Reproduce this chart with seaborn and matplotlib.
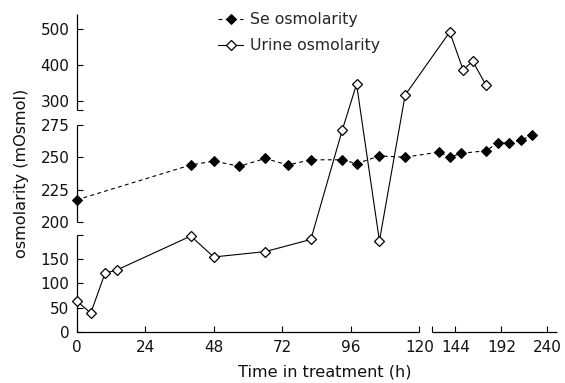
import numpy as np
import matplotlib
matplotlib.use("Agg")
import matplotlib.pyplot as plt
import seaborn as sns
import pandas as pd
from matplotlib.ticker import FixedLocator, NullFormatter

# ---- data ----
se_time = [0, 40, 48, 57, 66, 74, 82, 93, 98, 106, 115, 127, 138, 150, 176, 188, 200, 212, 224]
se_osm = [217, 244, 247, 243, 249, 244, 248, 248, 245, 251, 250, 254, 250, 253, 255, 261, 261, 263, 267]
urine_time = [0, 5, 10, 14, 40, 48, 66, 82, 93, 98, 106, 115, 138, 152, 162, 176]
urine_osm = [64, 39, 121, 127, 197, 154, 165, 190, 271, 346, 187, 316, 491, 386, 410, 343]
x_ticks = [0, 24, 48, 72, 96, 120, 144, 192, 240]
y_ticks = [0, 50, 100, 150, 200, 225, 250, 275, 300, 400, 500]

sns.set_theme(style="ticks")
plt.rcParams['font.family'] = ['DejaVu Sans']
plt.rcParams['font.size'] = 11

# ---- broken (piecewise) scales ----
XA = 2.858
XB = 0.958
XG = 356.0


def xf(x):
    x = np.asarray(x, float)
    return np.where(x <= 120, x * XA, XG + (x - 120) * XB)


def xi(d):
    d = np.asarray(d, float)
    return np.where(d <= 120 * XA, d / XA,
                    np.where(d < XG, 120.0, 120 + (d - XG) / XB))


YA, YB, YC = 0.4867, 1.2933, 0.36
Y1, Y2 = 110.0, 222.0


def yf(v):
    v = np.asarray(v, float)
    return np.where(v < 200, v * YA,
                    np.where(v <= 275, Y1 + (v - 200) * YB, Y2 + (v - 275) * YC))


def yi(d):
    d = np.asarray(d, float)
    top_mid = Y1 + 75 * YB
    return np.where(d < 200 * YA, d / YA,
           np.where(d < Y1, 200.0,
           np.where(d <= top_mid, 200 + (d - Y1) / YB,
           np.where(d < Y2, 275.0, 275 + (d - Y2) / YC))))


W, H = 565, 383
fig = plt.figure(figsize=(W / 100, H / 100), dpi=100)
x0, x1, ybot, ytop = 76.5, 557.0, 332.0, 14.0
ax = fig.add_axes([x0 / W, 1 - ybot / H, (x1 - x0) / W, (ybot - ytop) / H])
ax.set_facecolor("white")
ax.set_xscale("function", functions=(xf, xi))
ax.set_yscale("function", functions=(yf, yi))

se_df = pd.DataFrame({"t": se_time, "v": se_osm})
ur_df = pd.DataFrame({"t": urine_time, "v": urine_osm})

sns.lineplot(data=se_df, x="t", y="v", ax=ax, estimator=None, sort=False,
             color="black", lw=0.8, linestyle=(0, (3.5, 3)),
             marker="D", markersize=5.5, markerfacecolor="black",
             markeredgecolor="black", label="Se osmolarity", clip_on=False, zorder=3)
sns.lineplot(data=ur_df, x="t", y="v", ax=ax, estimator=None, sort=False,
             color="black", lw=0.8, linestyle="-",
             marker="D", markersize=5.5, markerfacecolor="white",
             markeredgecolor="black", markeredgewidth=0.9,
             label="Urine osmolarity", clip_on=False, zorder=4)

ax.set_xlim(0, 250)
ax.set_ylim(0, 541)

# spines drawn as broken segments
for s in ax.spines.values():
    s.set_visible(False)
for a, b in [(0, 199.999), (200, 275), (275.001, 541)]:
    ax.plot([0, 0], [a, b], transform=ax.get_yaxis_transform(), color="black",
            lw=0.9, clip_on=False, solid_capstyle="butt")
for a, b in [(0, 120), (120.001, 250)]:
    ax.plot([a, b], [0, 0], transform=ax.get_xaxis_transform(), color="black",
            lw=0.9, clip_on=False, solid_capstyle="butt")

ax.xaxis.set_major_locator(FixedLocator(x_ticks))
ax.set_xticklabels([str(t) for t in x_ticks])
ax.yaxis.set_major_locator(FixedLocator(y_ticks))
ax.set_yticklabels([str(t) for t in y_ticks])
ax.xaxis.set_minor_locator(FixedLocator([120.001]))
ax.yaxis.set_minor_locator(FixedLocator([199.999, 275.001]))
ax.xaxis.set_minor_formatter(NullFormatter())
ax.yaxis.set_minor_formatter(NullFormatter())
ax.tick_params(which="both", direction="in", length=4.5, width=0.8,
               color="black", labelsize=11, labelcolor="#111111")
ax.tick_params(axis="y", which="both", pad=5)
ax.tick_params(axis="x", which="both", pad=6)

ax.set_xlabel("Time in treatment (h)", fontsize=11.6, color="#111111")
ax.xaxis.set_label_coords((325 - x0) / (x1 - x0), -(372 - ybot) / (ybot - ytop),
                          transform=ax.transAxes)
ax.xaxis.label.set_va("center")
ax.set_ylabel("osmolarity (mOsmol)", fontsize=11.6, color="#111111")
ax.yaxis.set_label_coords(-(x0 - 22) / (x1 - x0), (ybot - 173) / (ybot - ytop),
                          transform=ax.transAxes)
ax.yaxis.label.set_va("center")

ax.legend(loc="upper left", bbox_to_anchor=(218 / W, 1 - 12 / H),
          bbox_transform=fig.transFigure, frameon=False, fontsize=11.3,
          handlelength=1.6, handletextpad=0.45, labelspacing=0.72,
          borderaxespad=0, borderpad=0)

fig.savefig("out.png", dpi=100, facecolor="white")
